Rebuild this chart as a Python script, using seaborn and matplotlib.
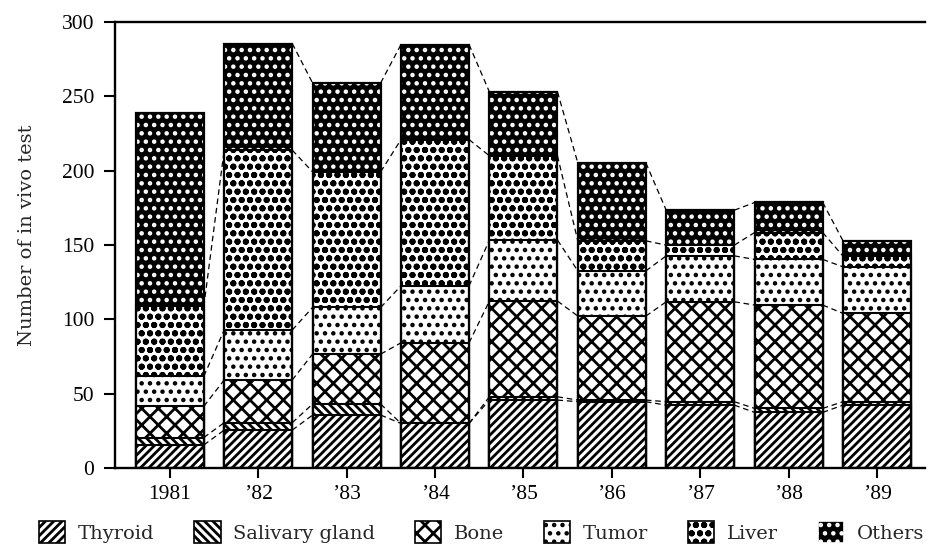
import matplotlib
matplotlib.use("Agg")
import matplotlib.pyplot as plt
from matplotlib.patches import Patch
import numpy as np
import seaborn as sns

years = ["1981", "\u201982", "\u201983", "\u201984", "\u201985", "\u201986", "\u201987", "\u201988", "\u201989"]
thyroid = [15.5, 25.5, 35.6, 30.0, 45.7, 44.6, 42.3, 37.4, 42.3]
salivary = [5.0, 5.0, 7.4, 0.0, 2.2, 1.1, 2.3, 2.7, 2.3]
bone = [21.0, 28.7, 33.6, 54.2, 64.4, 56.5, 67.2, 69.5, 59.4]
tumor = [20.2, 33.6, 31.4, 38.3, 41.0, 30.4, 30.9, 30.7, 31.3]
liver = [47.0, 121.0, 91.2, 98.4, 56.7, 20.2, 7.2, 18.1, 7.2]
others = [130.0, 71.7, 59.8, 63.9, 43.0, 52.4, 23.5, 20.2, 10.3]
organs = ["Thyroid", "Salivary gland", "Bone", "Tumor", "Liver", "Others"]

# face, hatch colour, hatch pattern
styles = {
    "Thyroid": ("white", "black", "////"),
    "Salivary gland": ("white", "black", "\\\\\\\\"),
    "Bone": ("white", "black", "xx"),
    "Tumor": ("white", "black", ".."),
    "Liver": ("white", "black", "oo"),
    "Others": ("black", "white", ".."),
}

sns.set_style("white")
plt.rcParams["font.family"] = ["DejaVu Serif"]
plt.rcParams["hatch.linewidth"] = 2.0

stack = np.array([thyroid, salivary, bone, tumor, liver, others])
cum = np.cumsum(stack, axis=0)
w = 0.77

fig, ax = plt.subplots(figsize=(9.37, 5.47), dpi=100)
fig.subplots_adjust(left=0.1227, right=0.987, bottom=0.1444, top=0.9598)

# stacked bars: draw cumulative totals from the top layer down
for k in reversed(range(len(organs))):
    face, hc, hatch = styles[organs[k]]
    n0 = len(ax.patches)
    sns.barplot(x=years, y=cum[k], width=w, saturation=1, errorbar=None,
                color=face, ax=ax)
    for p in ax.patches[n0:]:
        p.set_facecolor(face)
        p.set_edgecolor(hc)
        p.set_hatch(hatch)
        p.set_linewidth(1.5 if hc == "black" else 0)

# outer outline
n0 = len(ax.patches)
sns.barplot(x=years, y=cum[-1], width=w, saturation=1, errorbar=None,
            fill=False, color="black", ax=ax)
for p in ax.patches[n0:]:
    p.set_facecolor("none")
    p.set_edgecolor("black")
    p.set_hatch(None)
    p.set_linewidth(1.6)

# dashed connectors between neighbouring bars
for i in range(len(years) - 1):
    for k in range(len(organs)):
        if k == len(organs) - 1 and i == 0:
            continue
        ax.plot([i + w / 2, i + 1 - w / 2], [cum[k][i], cum[k][i + 1]],
                ls=(0, (4.5, 3)), color="black", lw=0.9)

ax.set_xlim(-0.62, 8.54)
ax.set_ylim(0, 300)
ax.set_yticks(range(0, 301, 50))
ax.set_xlabel("")
ax.set_ylabel("Number of in vivo test", fontsize=14)
ax.yaxis.set_label_coords(-0.097, 0.522)

sns.despine(ax=ax, top=False, right=True)
for s in ["left", "bottom", "top"]:
    ax.spines[s].set_linewidth(1.7)
    ax.spines[s].set_color("black")
ax.tick_params(axis="y", direction="out", length=8, width=1.5, pad=7,
               labelsize=15.5, left=True, colors="black")
ax.tick_params(axis="x", direction="out", length=7, width=1.5, pad=5,
               labelsize=15.5, bottom=True, colors="black")
for lbl in ax.get_xticklabels() + ax.get_yticklabels():
    lbl.set_fontfamily(["Liberation Serif"])

handles = [Patch(facecolor=styles[o][0], edgecolor=styles[o][1],
                 hatch=styles[o][2], linewidth=1.2) for o in organs]
fig.legend(handles, organs, ncol=6, loc="center", frameon=False,
           bbox_to_anchor=(0.514, 0.027), fontsize=14,
           handlelength=1.35, handleheight=1.35, handletextpad=0.65,
           columnspacing=2.05, borderpad=0, borderaxespad=0)

fig.savefig("out.png", dpi=100)
